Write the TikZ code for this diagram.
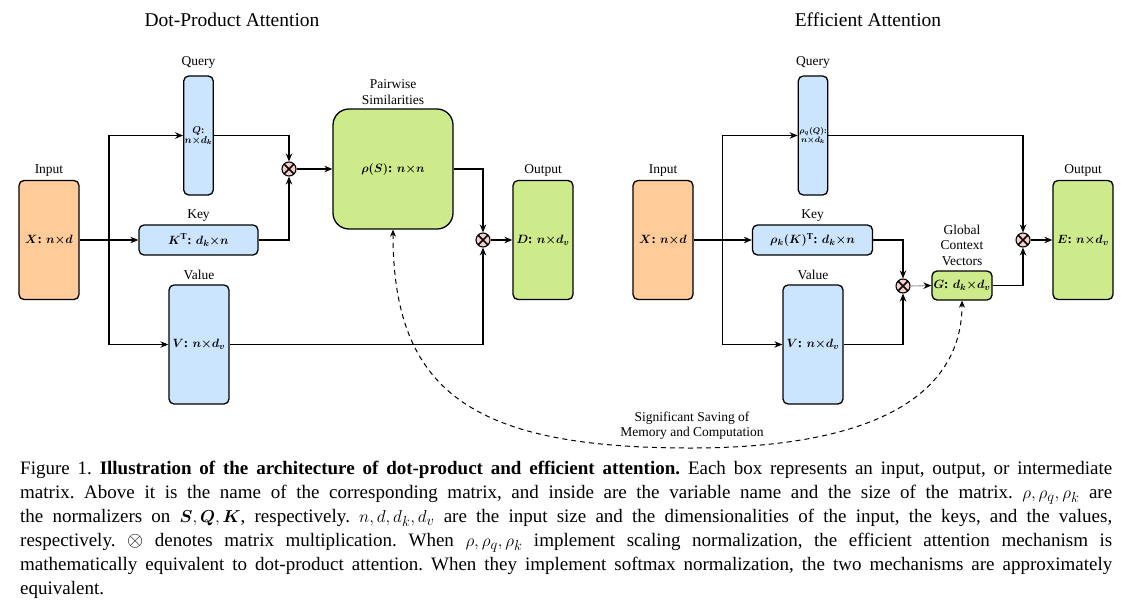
\documentclass[tikz,border=0pt]{standalone}
\usepackage{fontspec}
\setmainfont{Liberation Serif}
\usepackage{amsmath}
\usepackage{tikz}
\usetikzlibrary{positioning,calc,arrows.meta}

\definecolor{inorange}{HTML}{FFCC99}
\definecolor{qkvblue}{HTML}{CCE5FF}
\definecolor{outgreen}{HTML}{CDEB8B}
\definecolor{mulpink}{HTML}{F8CECC}

\newcommand{\ttlfont}{\fontsize{19.5}{22}\selectfont}
\newcommand{\lblfont}{\fontsize{13.5}{15.5}\selectfont}
\newcommand{\boxfont}{\fontsize{13}{15}\selectfont\bfseries\boldmath}
\newcommand{\captxtfont}{\fontsize{19}{24}\selectfont\frenchspacing}

\tikzstyle{mat} = [rectangle, rounded corners=5pt, draw=black, line width=1.3pt, inner sep=1pt, align=center, font=\boxfont]
\tikzstyle{inmat} = [mat, fill=inorange]
\tikzstyle{qkv} = [mat, fill=qkvblue]
\tikzstyle{outmat} = [mat, fill=outgreen]
\tikzstyle{tall} = [minimum width=60pt, minimum height=119pt]
\tikzstyle{thin} = [minimum width=29pt, minimum height=119pt]
\tikzstyle{wide} = [minimum width=120pt, minimum height=30pt]
\tikzstyle{lbl} = [inner sep=0pt, text depth=0pt, align=center, font=\lblfont]
\tikzstyle{ttl} = [inner sep=0pt, font=\ttlfont]
\tikzstyle{mul} = [circle, draw=black, line width=1.1pt, fill=mulpink, minimum size=14pt, inner sep=0pt,
  path picture={\draw[line width=1.7pt] (path picture bounding box.north west) -- (path picture bounding box.south east)
  (path picture bounding box.north east) -- (path picture bounding box.south west);}]
\tikzstyle{arrow} = [line width=1.1pt, ->, >={Stealth[length=8pt,width=6.5pt]}]

\begin{document}
\begin{tikzpicture}[x=1pt, y=-1pt]
    \useasboundingbox (0,0) rectangle (1132,608);
    % dot-product attention
    \node[ttl] (ttl1) at (232,20) {Dot-Product Attention};
    \node[inmat, tall] (x1) at (49,240) {$X$: $n{\times}d$};
    \node[qkv, thin, font=\fontsize{10}{12}\selectfont\bfseries\boldmath] (q1) at (198.5,135.5) {$Q$:\\[-2pt]$n{\times}d_k$};
    \node[qkv, wide, minimum width=119pt] (k1) at (198.5,240) {$K^{\mathrm{T}}$: $d_k{\times}n$};
    \node[qkv, tall] (v1) at (199,344.5) {$V$: $n{\times}d_v$};
    \node[outmat, minimum width=120pt, minimum height=120pt, rounded corners=16pt] (s1) at (393,169) {$\rho(S)$: $n{\times}n$};
    \node[outmat, tall] (d1) at (543,240) {$D$: $n{\times}d_v$};
    \node[mul] (m1) at (289,169) {};
    \node[mul] (m2) at (483,240) {};
    \node[lbl, above=10pt of q1] (qlab1) {Query};
    \node[lbl, above=6pt of x1] (xlab1) {Input};
    \node[lbl, above=6pt of k1] (klab1) {Key};
    \node[lbl, above=5pt of v1] (vlab1) {Value};
    \node[lbl, above=4pt of s1] (slab1) {Pairwise\\Similarities};
    \node[lbl, above=6pt of d1] (dlab1) {Output};
    \coordinate (sp1) at ($(x1.east)!0.5!(k1.west)$);
    \draw[arrow] (x1.east) -- (k1.west);
    \draw[arrow] (sp1) |- (q1.west);
    \draw[arrow] (sp1) |- (v1.west);
    \draw[arrow] (q1.east) -| (m1.north);
    \draw[arrow] (k1.east) -| (m1.south);
    \draw[arrow] (m1.east) -- (s1.west);
    \draw[arrow] (s1.east) -| (m2.north);
    \draw[arrow] (v1.east) -| (m2.south);
    \draw[arrow] (m2.east) -- (d1.west);
    % efficient attention
    \node[ttl] (ttl2) at (868,20) {Efficient Attention};
    \node[inmat, tall] (x2) at (663,240) {$X$: $n{\times}d$};
    \node[qkv, thin, font=\fontsize{8}{9.5}\selectfont\bfseries\boldmath] (q2) at (813,135.5) {$\rho_q(Q)$:\\[-1pt]$n{\times}d_k$};
    \node[qkv, wide] (k2) at (812.5,240) {$\rho_k(K)^{\mathrm{T}}$: $d_k{\times}n$};
    \node[qkv, tall] (v2) at (813,344.5) {$V$: $n{\times}d_v$};
    \node[outmat, minimum width=60pt, minimum height=29pt] (g2) at (962,285.5) {$G$: $d_k{\times}d_v$};
    \node[outmat, tall] (e2) at (1083,240) {$E$: $n{\times}d_v$};
    \node[mul] (m3) at (903,286) {};
    \node[mul] (m4) at (1023,240) {};
    \node[lbl, above=10pt of q2] (qlab2) {Query};
    \node[lbl, above=6pt of x2] (xlab2) {Input};
    \node[lbl, above=6pt of k2] (klab2) {Key};
    \node[lbl, above=5pt of v2] (vlab2) {Value};
    \node[lbl, above=5pt of g2] (glab2) {Global\\Context\\Vectors};
    \node[lbl, above=6pt of e2] (elab2) {Output};
    \coordinate (sp2) at ($(x2.east)!0.5!(k2.west)$);
    \draw[arrow] (x2.east) -- (k2.west);
    \draw[arrow] (sp2) |- (q2.west);
    \draw[arrow] (sp2) |- (v2.west);
    \draw[arrow] (q2.east) -| (m4.north);
    \draw[arrow] (k2.east) -| (m3.north);
    \draw[arrow] (v2.east) -| (m3.south);
    \draw[arrow, gray!70, -{Stealth[length=8pt,width=6.5pt,color=black]}] (m3.east) -- (g2.west);
    \draw[arrow] (g2.east) -| (m4.south);
    \draw[arrow] (m4.east) -- (e2.west);
    % saving
    \coordinate (low) at (690,448);
    \draw[line width=1pt, dash pattern=on 5pt off 4pt, <->, >={Stealth[length=7pt,width=6pt]}]
      (s1.south) .. controls (393,390) and (470,448) .. (low) .. controls (900,448) and (962,380) .. (g2.south);
    \node[lbl, font=\fontsize{13.5}{14.5}\selectfont] (saving) at (692,424) {Significant Saving of\\Memory and Computation};
    % caption
    \node[inner sep=0pt, anchor=north west, text width=1092pt, align=justify, font=\captxtfont] (caption) at (20,461)
      {\noindent Figure 1. \textbf{Illustration of the architecture of dot-product and efficient attention.} Each box represents an input, output, or intermediate\linebreak
      matrix. Above it is the name of the corresponding matrix, and inside are the variable name and the size of the matrix. $\rho,\rho_q,\rho_k$ are\linebreak
      the normalizers on $\boldsymbol{S},\boldsymbol{Q},\boldsymbol{K}$, respectively. $n,d,d_k,d_v$ are the input size and the dimensionalities of the input, the keys, and the values,\linebreak
      respectively. {\fontsize{21}{21}\selectfont$\otimes$} denotes matrix multiplication. When $\rho,\rho_q,\rho_k$ implement scaling normalization, the efficient attention mechanism is\linebreak
      mathematically equivalent to dot-product attention. When they implement softmax normalization, the two mechanisms are approximately\linebreak
      equivalent.};
\end{tikzpicture}
\end{document}
